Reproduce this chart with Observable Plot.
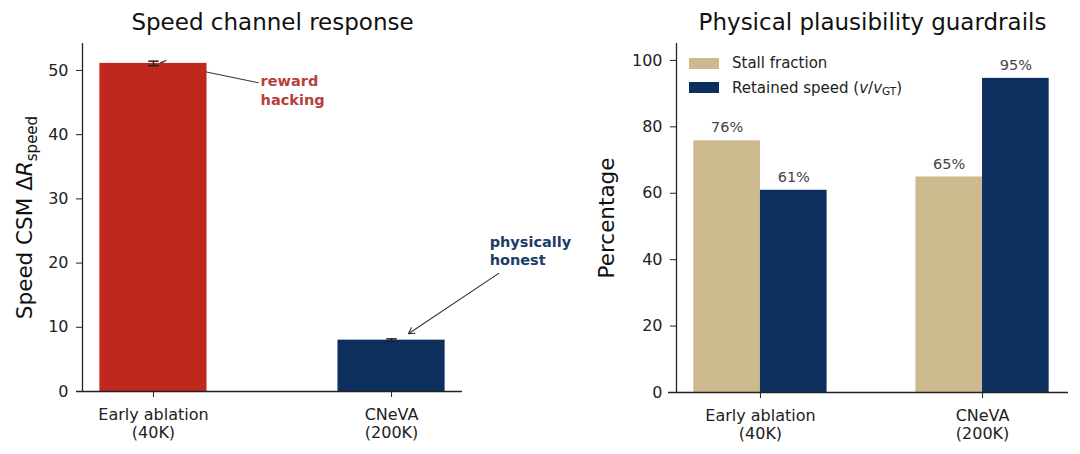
<!DOCTYPE html>
<html>
<head>
<meta charset="utf-8">
<script src="https://cdn.jsdelivr.net/npm/d3@7"></script>
<script src="https://cdn.jsdelivr.net/npm/@observablehq/plot@0.6"></script>
<style>
  html, body { margin: 0; padding: 0; background: #fff; }
  #wrap { position: relative; width: 1080px; height: 454px; display: flex; font-family: "DejaVu Sans", sans-serif; }
  .panel { position: relative; width: 540px; height: 454px; }
  #left { z-index: 2; }
  #right { z-index: 1; }
  .legend { position: absolute; left: 149px; top: 51px; font-size: 15px; color: #222; }
  .legend .row { display: flex; align-items: center; height: 24.5px; }
  .legend .sw { width: 30px; height: 11px; margin-right: 13px; }
  .legend sub { font-size: 70%; vertical-align: -2px; }
</style>
</head>
<body>
<div id="wrap">
  <div class="panel" id="left"></div>
  <div class="panel" id="right"></div>
</div>
<script>
// ---------------- data ----------------
const methods = ["Early ablation\n(40K)", "CNeVA\n(200K)"];
const speedDelta = [51.1, 8.0];
const speedErr = [0.35, 0.2];
const seriesNames = ["Stall fraction", "Retained speed"];
const stallFraction = [75.8, 64.9];
const retainedSpeed = [60.9, 94.6];
const leftTicks = [0, 10, 20, 30, 40, 50];
const rightTicks = [0, 20, 40, 60, 80, 100];

const RED = "#c0281e", NAVY = "#0c2f5e", TAN = "#cdb98e";
const FONT = "DejaVu Sans, sans-serif";
const YLAB_LEFT = "Speed CSM ΔRspeed";
const TICK_FS = 16;

// ---------------- left panel ----------------
const speedRows = methods.map((m, i) => ({i, m, value: speedDelta[i], err: speedErr[i]}));
const barHalf = 0.225, capHalf = 0.022;
const leftX = [-0.298, 1.298];

const left = Plot.plot({
  width: 540, height: 454,
  marginLeft: 82, marginRight: 78, marginTop: 43, marginBottom: 63,
  style: {fontFamily: FONT, fontSize: "16px", color: "#222", background: "transparent", overflow: "visible"},
  x: {domain: leftX},
  y: {domain: [0, 54.2]},
  color: {domain: methods, range: [RED, NAVY]},
  marks: [
    // annotation arrows (drawn below bars, like matplotlib)
    Plot.arrow([{x1: 0.44, y1: 48.1, x2: 0.03, y2: 51.25}], {x1: "x1", y1: "y1", x2: "x2", y2: "y2", stroke: "#333", strokeWidth: 1.1, headLength: 8}),
    Plot.rectY(speedRows, {x1: d => d.i - barHalf, x2: d => d.i + barHalf, y1: 0, y2: "value", fill: "m"}),
    Plot.ruleX(speedRows, {x: "i", y1: d => d.value - d.err, y2: d => d.value + d.err, stroke: "#222", strokeWidth: 1.5}),
    Plot.link(speedRows, {x1: d => d.i - capHalf, x2: d => d.i + capHalf, y1: d => d.value + d.err, y2: d => d.value + d.err, stroke: "#222", strokeWidth: 1.5}),
    Plot.link(speedRows, {x1: d => d.i - capHalf, x2: d => d.i + capHalf, y1: d => d.value - d.err, y2: d => d.value - d.err, stroke: "#222", strokeWidth: 1.5}),
    Plot.arrow([{x1: 1.45, y1: 18.4, x2: 1.071, y2: 9.0}], {x1: "x1", y1: "y1", x2: "x2", y2: "y2", stroke: "#333", strokeWidth: 1.1, headLength: 9}),
    Plot.text(["reward\nhacking"], {x: 0.45, y: 47.0, text: d => d, textAnchor: "start", lineAnchor: "middle", fill: "#b8403a", fontWeight: "bold", fontSize: 14.5, lineHeight: 1.25}),
    Plot.text(["physically\nhonest"], {x: 1.412, y: 22.0, text: d => d, textAnchor: "start", lineAnchor: "middle", fill: "#1c3d66", fontWeight: "bold", fontSize: 14.5, lineHeight: 1.25}),
    Plot.ruleY([0], {x1: -0.323, x2: leftX[1], stroke: "#222", strokeWidth: 1.3}),
    Plot.ruleX([leftX[0]], {y1: 0, y2: 54.2, stroke: "#222", strokeWidth: 1.3}),
    Plot.axisY({ticks: leftTicks, tickSize: 6, tickPadding: 8, label: null, fontSize: TICK_FS}),
    Plot.axisX({ticks: [0, 1], tickFormat: i => methods[i], tickSize: 6, tickPadding: 9, label: null, fontSize: TICK_FS, lineHeight: 1.15}),
    Plot.text(["Speed channel response"], {frameAnchor: "top", dy: -21, text: d => d, lineAnchor: "middle", fontSize: 23, fill: "#111"}),
    Plot.text([YLAB_LEFT], {frameAnchor: "left", dx: -57, rotate: -90, text: d => d, textAnchor: "middle", lineAnchor: "middle", fontSize: 21.5, fill: "#111"})
  ]
});
document.getElementById("left").appendChild(left);

// y label with italic R and subscript "speed"
d3.select(left).selectAll("text").filter(function() { return this.textContent === YLAB_LEFT; })
  .each(function() {
    const t = d3.select(this);
    t.text(null);
    t.append("tspan").text("Speed CSM Δ");
    t.append("tspan").attr("font-style", "italic").text("R");
    t.append("tspan").attr("font-size", "15px").attr("dy", "5").text("speed");
  });

// ---------------- right panel ----------------
const bw = 0.3;
const rightX = [-0.378, 1.387];
const guardRows = [];
methods.forEach((m, i) => {
  guardRows.push({i, s: 0, series: seriesNames[0], value: stallFraction[i]});
  guardRows.push({i, s: 1, series: seriesNames[1], value: retainedSpeed[i]});
});

const right = Plot.plot({
  width: 540, height: 454,
  marginLeft: 136, marginRight: 12, marginTop: 43, marginBottom: 62,
  style: {fontFamily: FONT, fontSize: "16px", color: "#222", background: "transparent", overflow: "visible"},
  x: {domain: rightX},
  y: {domain: [0, 105.1]},
  color: {domain: seriesNames, range: [TAN, NAVY]},
  marks: [
    Plot.rectY(guardRows, {x1: d => d.s === 0 ? d.i - bw : d.i, x2: d => d.s === 0 ? d.i : d.i + bw, y1: 0, y2: "value", fill: "series"}),
    Plot.text(guardRows, {x: d => d.i + (d.s === 0 ? -bw / 2 : bw / 2), y: "value", text: d => Math.round(d.value) + "%", dy: -13, lineAnchor: "middle", fill: "#444", fontSize: 14.5}),
    Plot.ruleY([0], {x1: -0.414, x2: rightX[1], stroke: "#222", strokeWidth: 1.3}),
    Plot.ruleX([rightX[0]], {y1: 0, y2: 105.1, stroke: "#222", strokeWidth: 1.3}),
    Plot.axisY({ticks: rightTicks, tickSize: 6, tickPadding: 8, label: null, fontSize: TICK_FS}),
    Plot.axisX({ticks: [0, 1], tickFormat: i => methods[i], tickSize: 6, tickPadding: 9, label: null, fontSize: TICK_FS, lineHeight: 1.15}),
    Plot.text(["Physical plausibility guardrails"], {frameAnchor: "top", dy: -21, text: d => d, lineAnchor: "middle", fontSize: 23, fill: "#111"}),
    Plot.text(["Percentage"], {frameAnchor: "left", dx: -69, rotate: -90, text: d => d, textAnchor: "middle", lineAnchor: "middle", fontSize: 21.5, fill: "#111"})
  ]
});
document.getElementById("right").appendChild(right);

// legend
const legend = document.createElement("div");
legend.className = "legend";
legend.innerHTML =
  `<div class="row"><span class="sw" style="background:${TAN}"></span><span>${seriesNames[0]}</span></div>` +
  `<div class="row"><span class="sw" style="background:${NAVY}"></span><span>${seriesNames[1]} (<i>v</i>/<i>v</i><sub>GT</sub>)</span></div>`;
document.getElementById("right").appendChild(legend);
</script>
</body>
</html>
